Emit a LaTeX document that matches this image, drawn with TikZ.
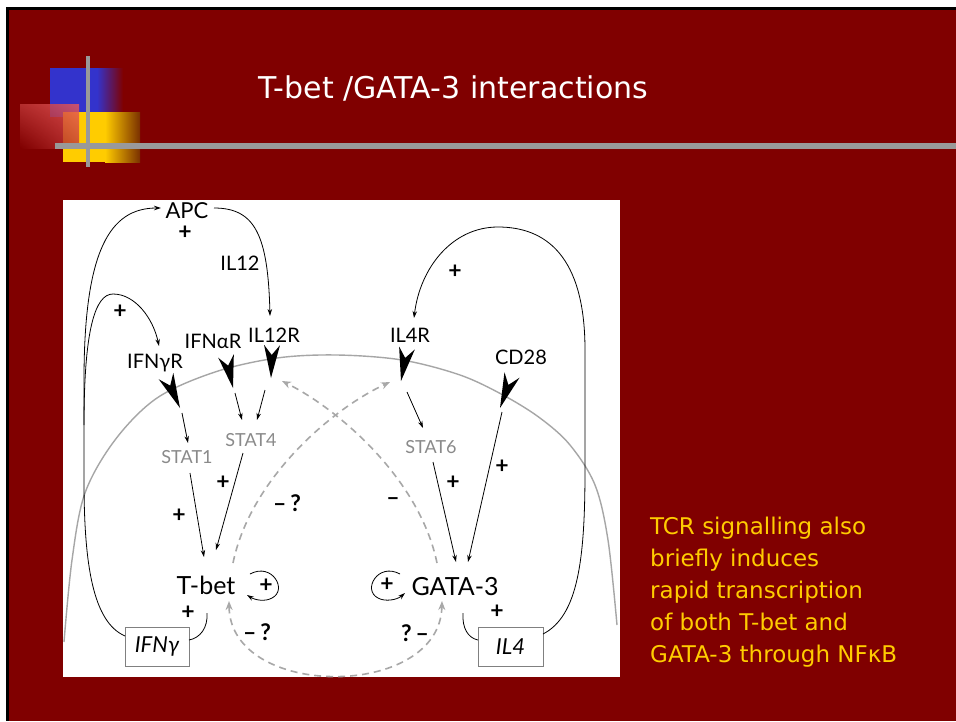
\documentclass[tikz,border=0pt]{standalone}
\usepackage{fontspec}
\setmainfont{DejaVu Sans}
\newfontfamily\dfont{Lato}
\usetikzlibrary{arrows.meta,calc,shadings}
\definecolor{bg}{HTML}{800000}
\definecolor{blueA}{HTML}{3333CC}
\definecolor{yelA}{HTML}{FFCC00}
\definecolor{brownA}{HTML}{7A3000}
\definecolor{redA}{HTML}{EC5A5A}
\definecolor{redB}{HTML}{C03838}
\definecolor{gbar}{HTML}{999999}
\definecolor{membgray}{HTML}{A6A6A6}
\definecolor{dashgray}{HTML}{A8A8A8}
\definecolor{statgray}{HTML}{8A8A8A}
\definecolor{boxgray}{HTML}{808080}
\definecolor{ytext}{HTML}{FFCC00}
\newcommand\chev[2]{\fill ($(#2)$) -- ($(#1)!8pt!90:(#2)$) -- ($(#1)!0.3!(#2)$) -- ($(#1)!8pt!-90:(#2)$) -- cycle;}
\begin{document}
\begin{tikzpicture}[x=1pt,y=-1pt,
  lab/.style={font=\dfont\fontsize{20}{20}\selectfont, inner sep=0pt, anchor=base},
  stat/.style={font=\dfont\fontsize{18}{18}\selectfont, text=statgray, inner sep=0pt, anchor=base},
  bigl/.style={font=\dfont\fontsize{25}{25}\selectfont, inner sep=0pt, anchor=base},
  plus/.style={font=\dfont\bfseries\fontsize{23}{23}\selectfont, inner sep=0pt},
  conn/.style={line width=0.8pt, -{Stealth[length=7pt,width=4.5pt]}},
  plain/.style={line width=0.8pt},
  inhib/.style={draw=dashgray, line width=1.6pt, dash pattern=on 7pt off 5pt},
  itip/.style={-{Stealth[length=9pt,width=7pt]}},
  memb/.style={draw=membgray, line width=1.4pt},
  genebox/.style={draw=boxgray, line width=1pt, minimum width=64pt, minimum height=39pt, inner sep=0pt, font=\dfont\itshape\fontsize{22}{22}\selectfont},
  ttl/.style={font=\fontsize{30}{30}\selectfont, text=white, inner sep=0pt, anchor=base west},
  side/.style={font=\fontsize{23}{23}\selectfont, text=ytext, inner sep=0pt, anchor=base west}
]
\useasboundingbox (0,0) rectangle (956,721);
% slide background
\fill[white] (0,0) rectangle (956,721);
\fill[black] (6,7) rectangle (956,721);
\fill[bg] (9,10) rectangle (956,721);
% decoration
\fill[blueA] (50,68) rectangle (97,117);
\shade[left color=blueA, right color=bg] (97,68) rectangle (123,117);
\fill[yelA] (63,112) rectangle (105,162);
\shade[left color=yelA, right color=brownA] (105,112) rectangle (140,162);
\shade[opacity=0.8, upper right=redA, upper left=redB, lower right=redB, lower left=bg] (20,104) rectangle (79,148);
\fill[gbar] (86,56) rectangle (90,167);
\fill[gbar] (55,143) rectangle (956,149);
% title
\node[ttl] (title) at (258,98) {T-bet /GATA-3 interactions};
% side text
\node[side] (s1) at (650,534.3) {TCR signalling also};
\node[side] (s2) at (650,566.5) {briefly induces};
\node[side] (s3) at (650,598.6) {rapid transcription};
\node[side] (s4) at (650,630.7) {of both T-bet and};
\node[side] (s5) at (650,662.8) {GATA-3 through NFκB};
% panel
\fill[white] (63,200) rectangle (620,677);
% membrane
\draw[memb] plot[smooth, tension=0.55] coordinates {(64,642) (72,560) (85,493) (115,440) (157,398) (215,372) (277,358) (337,355) (402,360) (460,375) (503,395) (540,418) (570,445) (595,485) (608,540) (617,625)};
% labels
\node[lab, font=\dfont\fontsize{22}{22}\selectfont] (apc) at (187,218) {APC};
\node[lab] (il12) at (240,270) {IL12};
\node[lab] (il12r) at (274,342) {IL12R};
\node[lab] (ifnar) at (213,348) {IFNαR};
\node[lab] (ifngr) at (155,368) {IFNγR};
\node[lab] (il4r) at (410,342) {IL4R};
\node[lab] (cd28) at (521,364) {CD28};
\node[stat] (stat1) at (187,463) {STAT1};
\node[stat] (stat4) at (251,446) {STAT4};
\node[stat] (stat6) at (431,453) {STAT6};
\node[bigl] (tbet) at (206,594) {T-bet};
\node[bigl] (gata) at (455,595) {GATA-3};
\node[genebox] (ifng) at (157,646.5) {IFNγ};
\node[genebox, minimum width=65pt] (il4) at (510.5,646.5) {IL4};
% plus / minus signs
\node[plus] (p1) at (185,233) {+};
\node[plus] (p2) at (120,312) {+};
\node[plus] (p3) at (455,272) {+};
\node[plus] (p4) at (223,483) {+};
\node[plus] (p5) at (179,516) {+};
\node[plus] (p6) at (453,483) {+};
\node[plus] (p7) at (502,467) {+};
\node[plus] (p8) at (188,613) {+};
\node[plus] (p9) at (497,612) {+};
\node[plus] (p10) at (266,586) {+};
\node[plus] (p11) at (387,585) {+};
\node[plus] (m1) at (287,503) {–\,?};
\node[plus] (m2) at (393,502) {–};
\node[plus] (m3) at (257,632) {–\,?};
\node[plus] (m4) at (415,633) {?\,–};
% named connector ends
\coordinate (ifngL) at (125,636);
\coordinate (apcW) at (161,208);
\coordinate (branch) at (84,425);
\coordinate (ifngrT) at (159,346);
\coordinate (apcE) at (214,208);
\coordinate (il12rT) at (270,316);
\coordinate (il4Rt) at (543,634);
\coordinate (il4rT) at (414,318);
\coordinate (tbetS) at (207,613);
\coordinate (ifngR) at (189,640);
\coordinate (gataS) at (463,613);
\coordinate (il4L) at (478,640);
% receptor chevrons
\coordinate (c1b) at (166,376); \coordinate (c1t) at (180,408);
\coordinate (c2b) at (226,356); \coordinate (c2t) at (233,388);
\coordinate (c3b) at (272,345); \coordinate (c3t) at (271,378);
\coordinate (c4b) at (407,348); \coordinate (c4t) at (401,381);
\coordinate (c5b) at (512,375); \coordinate (c5t) at (500,408);
\chev{c1b}{c1t}
\chev{c2b}{c2t}
\chev{c3b}{c3t}
\chev{c4b}{c4t}
\chev{c5b}{c5t}
% signalling arrows
\coordinate (a1s) at (182,413); \coordinate (a1e) at (188,443);
\coordinate (a2s) at (235,393); \coordinate (a2e) at (242,420);
\coordinate (a3s) at (265,390); \coordinate (a3e) at (257,420);
\coordinate (a4s) at (407,392); \coordinate (a4e) at (423,428);
\coordinate (a5s) at (502,412); \coordinate (a5e) at (468,562);
\coordinate (a6s) at (433,462); \coordinate (a6e) at (456,562);
\coordinate (a7s) at (190,473); \coordinate (a7e) at (204,557);
\coordinate (a8s) at (243,453); \coordinate (a8e) at (216,550);
\draw[conn] (a1s) -- (a1e);
\draw[conn] (a2s) -- (a2e);
\draw[conn] (a3s) -- (a3e);
\draw[conn] (a4s) -- (a4e);
\draw[conn] (a5s) -- (a5e);
\draw[conn] (a6s) -- (a6e);
\draw[conn] (a7s) -- (a7e);
\draw[conn] (a8s) -- (a8e);
% feedback loops
\draw[conn] (ifngL) .. controls (93,622) and (84,565) .. (84,480) -- (84,380) .. controls (84,250) and (110,208) .. (apcW);
\draw[conn] (branch) .. controls (84,330) and (95,294) .. (113,294) .. controls (135,294) and (153,318) .. (ifngrT);
\draw[conn] (apcE) .. controls (255,208) and (268,235) .. (il12rT);
\draw[conn] (il4Rt) .. controls (578,616) and (585,560) .. (585,470) -- (585,350) .. controls (585,255) and (545,227) .. (498,227) .. controls (452,227) and (420,268) .. (il4rT);
\draw[plain] (tbetS) .. controls (208,628) and (200,638) .. (ifngR);
\draw[plain] (gataS) .. controls (462,628) and (468,638) .. (il4L);
% self loops
\coordinate (tl1) at (250,574); \coordinate (tl2) at (247,595);
\coordinate (gl1) at (400,574); \coordinate (gl2) at (405,593);
\draw[conn] (tl1) .. controls (272,562) and (288,590) .. (272,598) .. controls (265,602) and (255,600) .. (tl2);
\draw[conn] (gl1) .. controls (378,562) and (362,590) .. (378,598) .. controls (385,602) and (397,600) .. (gl2);
% inhibitory (dashed) arrows
\coordinate (d1s) at (233,563); \coordinate (d1e) at (390,382);
\coordinate (d2s) at (437,563); \coordinate (d2e) at (282,381);
\coordinate (d3s) at (229,601); \coordinate (d3e) at (442,601);
\draw[inhib, itip] (d1s) .. controls (250,480) and (330,410) .. (d1e);
\draw[inhib, itip] (d2s) .. controls (420,480) and (340,410) .. (d2e);
\draw[inhib, {Stealth[length=9pt,width=7pt]}-{Stealth[length=9pt,width=7pt]}] (d3s) .. controls (230,700) and (440,700) .. (d3e);
\end{tikzpicture}
\end{document}
